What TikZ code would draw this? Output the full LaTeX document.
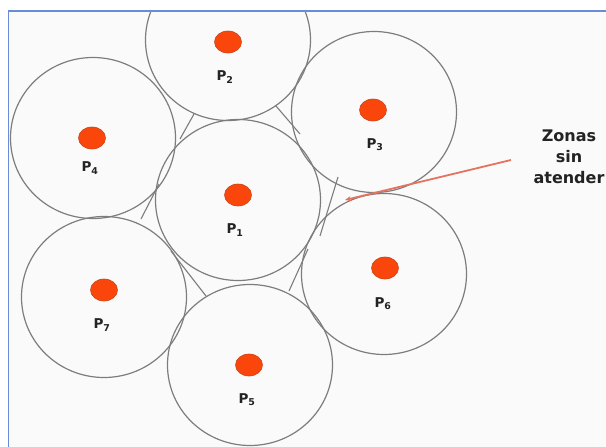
\documentclass[tikz,border=0pt]{standalone}
\usepackage{fontspec}
\setmainfont{DejaVu Sans}
\usetikzlibrary{shapes.geometric,arrows.meta}
\definecolor{frameblue}{RGB}{105,140,215}
\definecolor{ringgray}{RGB}{125,125,125}
\definecolor{dotfill}{RGB}{250,70,10}
\definecolor{dotedge}{RGB}{200,70,30}
\definecolor{arrowred}{RGB}{228,115,95}
\definecolor{inktext}{RGB}{35,35,35}
\tikzset{
  cell/.style={ellipse, draw=ringgray, line width=1.2pt, minimum width=165pt, minimum height=161pt, inner sep=0pt},
  station/.style={ellipse, fill=dotfill, draw=dotedge, line width=0.6pt, minimum width=27pt, minimum height=22pt, inner sep=0pt},
  plabel/.style={font=\fontsize{13.5}{14}\selectfont\bfseries, text=inktext, inner sep=0pt},
  tangent/.style={draw=ringgray, line width=1.1pt},
  note/.style={font=\fontsize{16}{21}\selectfont\bfseries, text=inktext, align=center, inner sep=0pt},
  pointer/.style={draw=arrowred, line width=1.8pt, -{Stealth[length=6pt,width=5pt]}},
  framed/.style={draw=frameblue, line width=1.6pt}
}
\newcommand{\plab}[1]{P\textsubscript{#1}}
\begin{document}
\begin{tikzpicture}[x=1pt,y=-1pt]
  \useasboundingbox (0,0) rectangle (606,447);
  \fill[white] (0,0) rectangle (606,447);
  \fill[black!2] (9,11.5) rectangle (606,447);

  \begin{scope}
    \clip (9.5,12) rectangle (606,447);
    % coverage areas
    \node[cell] (c1) at (238,200) {};
    \node[cell] (c2) at (228,40) {};
    \node[cell] (c3) at (374,112) {};
    \node[cell] (c4) at (93,138) {};
    \node[cell] (c5) at (250,365) {};
    \node[cell] (c6) at (384,274) {};
    \node[cell] (c7) at (104,297) {};

    % short edges across the uncovered gaps
    \draw[tangent] (194,114) -- (180,139);
    \draw[tangent] (276,106) -- (300,134);
    \draw[tangent] (338,177) -- (320,236);
    \draw[tangent] (308,249) -- (289,291);
    \draw[tangent] (171,251) -- (206,296);
    \draw[tangent] (159,184) -- (141,219);

    % base stations
    \node[station] (s1) at (238,195) {};
    \node[station] (s2) at (228,42) {};
    \node[station] (s3) at (373,110) {};
    \node[station] (s4) at (92,138) {};
    \node[station] (s5) at (249,365) {};
    \node[station] (s6) at (385,268) {};
    \node[station] (s7) at (104,290) {};

    \node[plabel] (l1) at (235,230) {\plab{1}};
    \node[plabel] (l2) at (225,77) {\plab{2}};
    \node[plabel] (l3) at (375,145) {\plab{3}};
    \node[plabel] (l4) at (90,168) {\plab{4}};
    \node[plabel] (l5) at (247,400) {\plab{5}};
    \node[plabel] (l6) at (383,304) {\plab{6}};
    \node[plabel] (l7) at (102,325) {\plab{7}};

    % annotation
    \node[note, anchor=north] (zonas) at (569,130) {Zonas\\sin\\atender};
    \coordinate (tail) at (511,160);
    \coordinate (gap) at (345,200);
    \draw[pointer] (tail) -- (gap);
  \end{scope}

  % frame
  \draw[framed] (606,11) -- (8.5,11) -- (8.5,447);
\end{tikzpicture}
\end{document}
